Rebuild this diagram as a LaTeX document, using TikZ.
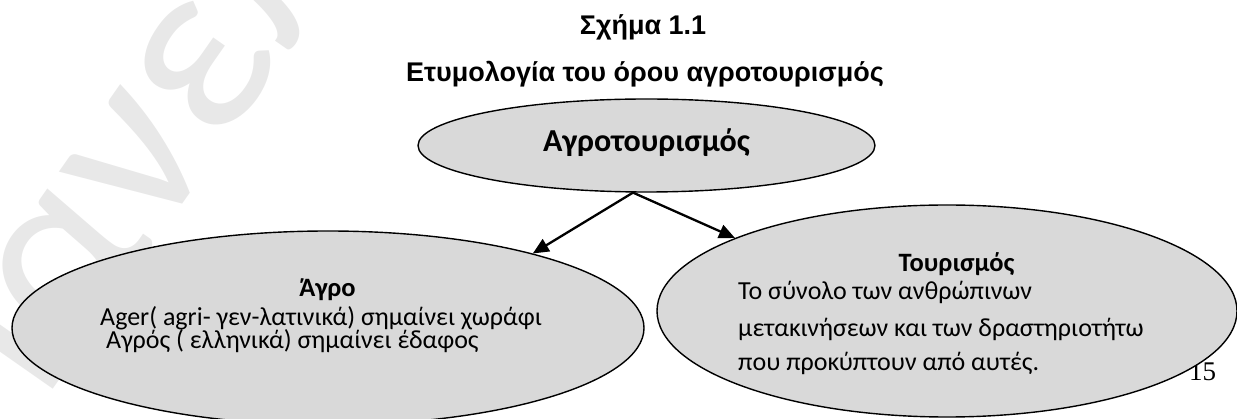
\documentclass[tikz,border=0pt]{standalone}
\usepackage{fontspec}
\usetikzlibrary{shapes.geometric,arrows.meta}
\newfontfamily\arialf{Liberation Sans}
\newfontfamily\calf{Carlito}
\newfontfamily\timesf{Liberation Serif}
\definecolor{shapefill}{RGB}{217,217,217}
\definecolor{wmark}{RGB}{232,232,232}
\tikzset{
  oval/.style={ellipse, draw=black, line width=1.4pt, fill=shapefill, inner sep=0pt},
  link/.style={line width=2.3pt, -{Triangle[length=16pt,width=14pt]}},
  ttl/.style={inner sep=0pt, font=\arialf\bfseries\fontsize{27}{31}\selectfont},
  head/.style={inner sep=0pt, font=\calf\bfseries\fontsize{32}{36}\selectfont},
  subhead/.style={inner sep=0pt, font=\calf\bfseries\fontsize{26.5}{31}\selectfont},
  body/.style={inner sep=0pt, font=\calf\fontsize{26}{31}\selectfont},
  pnum/.style={inner sep=0pt, font=\timesf\fontsize{27}{31}\selectfont},
  wm/.style={inner sep=0pt, text=wmark, font=\calf\fontsize{250}{270}\selectfont}
}
\begin{document}
\begin{tikzpicture}[x=1pt,y=-1pt]
\useasboundingbox (0,0) rectangle (1237,419);
\clip (0,0) rectangle (1237,419);
\node[wm, rotate=55, anchor=base west] (wmk) at (-14,485) {Πανεπιστήμιο};
\node[pnum, anchor=base west] (pg) at (1189,381) {15};
\node[ttl, anchor=base] (t1) at (643,35) {Σχήμα 1.1};
\node[ttl, anchor=base] (t2) at (645,82) {Ετυμολογία του όρου αγροτουρισμός};
\node[oval, minimum width=457pt, minimum height=93pt] (nroot) at (646.5,145.5) {};
\node[oval, minimum width=632pt, minimum height=194pt] (nagro) at (328,328) {};
\node[oval, minimum width=580pt, minimum height=212pt] (ntour) at (947,311) {};
\node[head, anchor=base] (troot) at (646.5,152) {Αγροτουρισμός};
\node[subhead, anchor=base] (ta0) at (327.5,297) {Άγρο};
\node[body, anchor=base west] (ta1) at (100,326) {Ager( agri- γεν-λατινικά) σημαίνει χωράφι};
\node[body, anchor=base west] (ta2) at (106,349) {Αγρός ( ελληνικά) σημαίνει έδαφος};
\node[subhead, anchor=base] (tt0) at (956.5,272) {Τουρισμός};
\node[body, anchor=base west] (tt1) at (738,300) {Το σύνολο των ανθρώπινων};
\node[body, anchor=base west] (tt2) at (738,337) {μετακινήσεων και των δραστηριοτήτω};
\node[body, anchor=base west] (tt3) at (738,371) {που προκύπτουν από αυτές.};
\draw[link] (nroot.254) -- (nagro.20);
\draw[link] (nroot.254) -- (ntour.161);
\end{tikzpicture}
\end{document}
